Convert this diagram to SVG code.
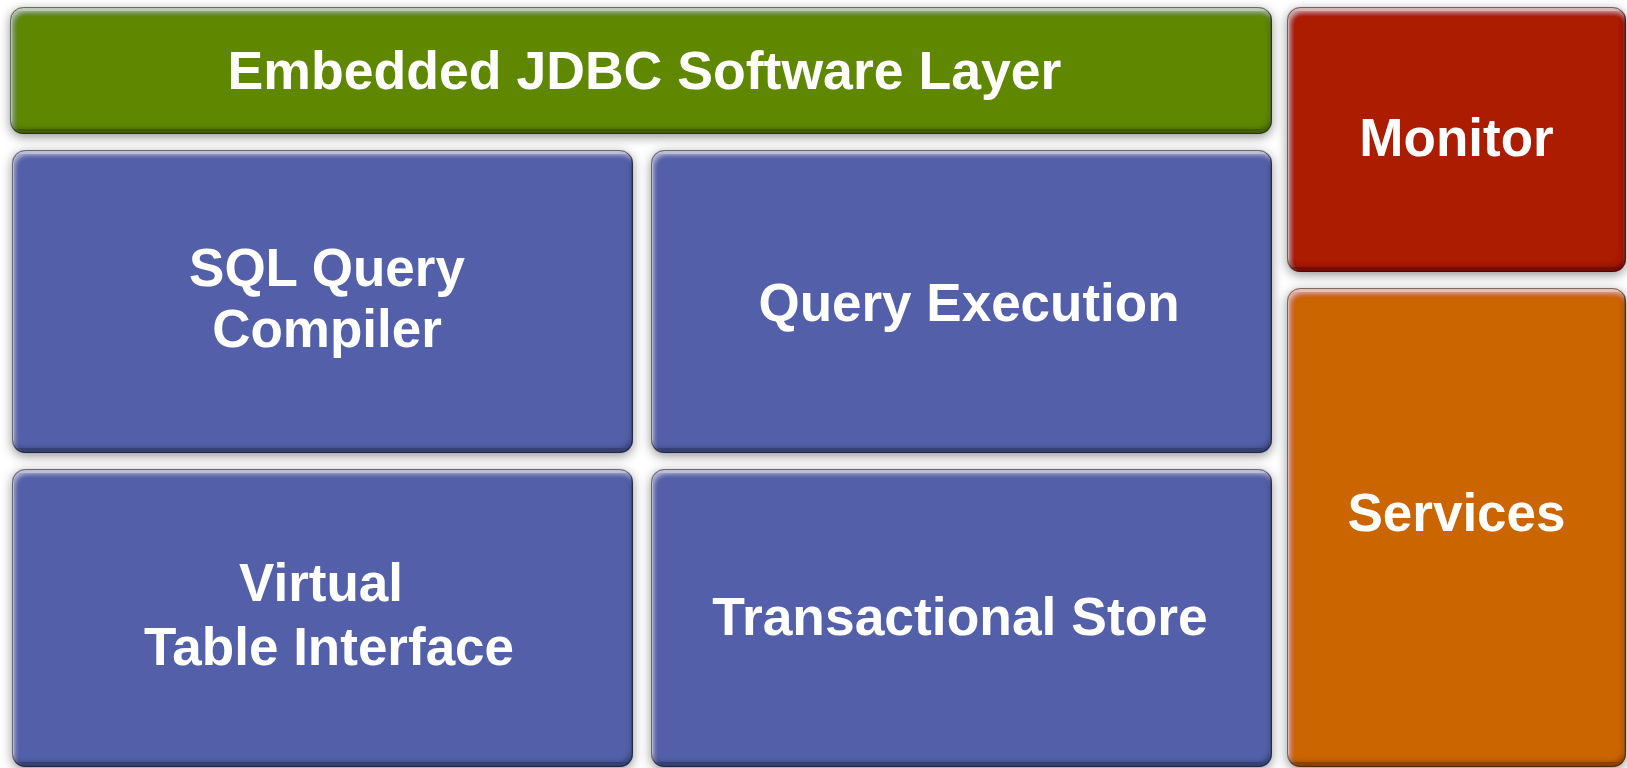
<svg xmlns="http://www.w3.org/2000/svg" width="1627" height="768" viewBox="0 0 1627 768">
  <defs>
    <!-- soft grey drop shadow around each block -->
    <filter id="shadow" x="-10%" y="-10%" width="120%" height="125%">
      <feGaussianBlur in="SourceAlpha" stdDeviation="5.5" result="blur"/>
      <feOffset in="blur" dy="3" result="off"/>
      <feFlood flood-color="#000" flood-opacity="0.42"/>
      <feComposite in2="off" operator="in"/>
    </filter>
    <!-- raised bevel: light top/left rim, dark bottom/right rim -->
    <filter id="bevel" x="0" y="0" width="100%" height="100%">
      <feGaussianBlur in="SourceAlpha" stdDeviation="2.5" result="b"/>
      <feOffset in="b" dx="2" dy="4" result="down"/>
      <feComposite in="SourceAlpha" in2="down" operator="out" result="topRim"/>
      <feFlood flood-color="#fff" flood-opacity="0.45"/>
      <feComposite in2="topRim" operator="in" result="light"/>
      <feOffset in="b" dx="-2" dy="-5" result="up"/>
      <feComposite in="SourceAlpha" in2="up" operator="out" result="bottomRim"/>
      <feFlood flood-color="#000" flood-opacity="0.55"/>
      <feComposite in2="bottomRim" operator="in" result="dark"/>
      <feMerge>
        <feMergeNode in="SourceGraphic"/>
        <feMergeNode in="light"/>
        <feMergeNode in="dark"/>
      </feMerge>
    </filter>
  </defs>
  <style>
    .box { filter: url(#bevel); }
    .edge { fill: none; stroke: #000; stroke-opacity: 0.45; stroke-width: 1; }
    .sh { fill: #000; filter: url(#shadow); }
    .green { fill: #5F8700; }
    .blue { fill: #5360A9; }
    .red { fill: #AB1A00; }
    .orange { fill: #CB6500; }
    text { font-family: "Liberation Sans", Arial, sans-serif; font-weight: bold; font-size: 53px; fill: #fff; text-anchor: middle; }
  </style>

  <rect width="1627" height="768" fill="#fff"/>

  <!-- shadows under all blocks -->
  <g id="shadows">
    <rect class="sh" x="10" y="7" width="1262" height="127" rx="13"/>
    <rect class="sh" x="1287" y="7" width="339" height="265" rx="13"/>
    <rect class="sh" x="1287" y="288" width="339" height="479" rx="13"/>
    <rect class="sh" x="12" y="150" width="621" height="303" rx="13"/>
    <rect class="sh" x="651" y="150" width="621" height="303" rx="13"/>
    <rect class="sh" x="12" y="469" width="621" height="298" rx="13"/>
    <rect class="sh" x="651" y="469" width="621" height="298" rx="13"/>
  </g>

  <g id="jdbc-layer">
    <rect class="box green" x="10" y="7" width="1262" height="127" rx="13"/>
    <rect class="edge" x="10.5" y="7.5" width="1261" height="126" rx="13"/>
    <text x="644.5" y="89" style="font-size:53.6px">Embedded JDBC Software Layer</text>
  </g>

  <g id="monitor">
    <rect class="box red" x="1287" y="7" width="339" height="265" rx="13"/>
    <rect class="edge" x="1287.5" y="7.5" width="338" height="264" rx="13"/>
    <text x="1456.5" y="156">Monitor</text>
  </g>

  <g id="services">
    <rect class="box orange" x="1287" y="288" width="339" height="479" rx="13"/>
    <rect class="edge" x="1287.5" y="288.5" width="338" height="478" rx="13"/>
    <text x="1456.5" y="531">Services</text>
  </g>

  <g id="sql-compiler">
    <rect class="box blue" x="12" y="150" width="621" height="303" rx="13"/>
    <rect class="edge" x="12.5" y="150.5" width="620" height="302" rx="13"/>
    <text x="327" y="286">SQL Query</text>
    <text x="327" y="347">Compiler</text>
  </g>

  <g id="query-execution">
    <rect class="box blue" x="651" y="150" width="621" height="303" rx="13"/>
    <rect class="edge" x="651.5" y="150.5" width="620" height="302" rx="13"/>
    <text x="969" y="321">Query Execution</text>
  </g>

  <g id="virtual-table">
    <rect class="box blue" x="12" y="469" width="621" height="298" rx="13"/>
    <rect class="edge" x="12.5" y="469.5" width="620" height="297" rx="13"/>
    <text x="321" y="601">Virtual</text>
    <text x="329" y="665">Table Interface</text>
  </g>

  <g id="transactional-store">
    <rect class="box blue" x="651" y="469" width="621" height="298" rx="13"/>
    <rect class="edge" x="651.5" y="469.5" width="620" height="297" rx="13"/>
    <text x="960" y="635" style="font-size:53.4px">Transactional Store</text>
  </g>

  <!-- the blocks are stacked edge to edge; there are no connecting lines -->
  <g id="connectors"/>
</svg>
